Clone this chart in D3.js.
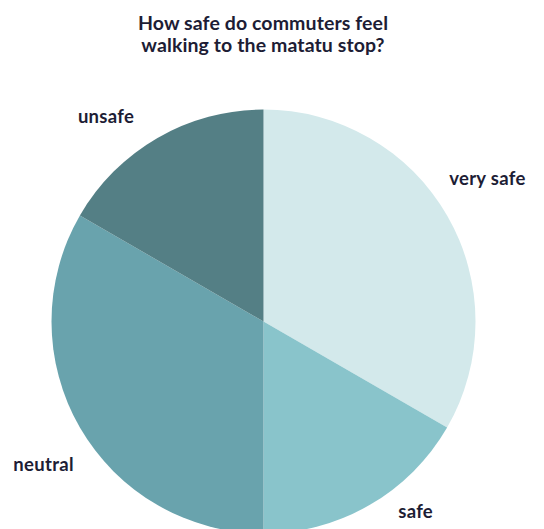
<!DOCTYPE html>
<html>
<head>
<meta charset="utf-8">
<script src="https://cdn.jsdelivr.net/npm/d3@7"></script>
<style>
  body { margin: 0; background: #fff; }
  svg text { font-family: 'Lato', sans-serif; font-weight: 700; fill: #1d1d35; }
</style>
</head>
<body>
<div id="chart"></div>
<script>
(function () {
  'use strict';

  var titleLines = ['How safe do commuters feel', 'walking to the matatu stop?'];
  var categories = ['very safe', 'safe', 'neutral', 'unsafe'];
  var values = [2, 1, 2, 1];
  var colors = ['#d3e9eb', '#89c4cb', '#69a3ad', '#547f85'];

  var width = 544, height = 529;
  var cx = 263.5, cy = 321.5, radius = 212;

  var svg = d3.select('#chart').append('svg')
      .attr('width', width)
      .attr('height', height);

  svg.selectAll('text.title')
    .data(titleLines)
    .enter()
    .append('text')
    .attr('class', 'title')
    .attr('x', 263)
    .attr('y', function (d, i) { return 30 + i * 22; })
    .attr('text-anchor', 'middle')
    .style('font-size', '19.5px')
    .style('letter-spacing', '0.1px')
    .text(function (d) { return d; });

  var data = categories.map(function (c, i) { return { name: c, value: values[i], color: colors[i] }; });

  var pie = d3.pie().sort(null).value(function (d) { return d.value; });
  var arc = d3.arc().innerRadius(0).outerRadius(radius);

  // labels sit outside, nudged back a few degrees
  var shift = -5 * Math.PI / 180;
  var labelArc = d3.arc().innerRadius(250).outerRadius(250)
    .startAngle(function (d) { return d.startAngle + shift; })
    .endAngle(function (d) { return d.endAngle + shift; });

  var g = svg.append('g')
      .attr('transform', 'translate(' + cx + ',' + cy + ')');

  var arcs = pie(data);

  g.selectAll('path')
    .data(arcs)
    .enter()
    .append('path')
    .attr('d', arc)
    .attr('fill', function (d) { return d.data.color; });

  var labels = g.selectAll('text.label')
    .data(arcs)
    .enter()
    .append('text')
    .attr('class', 'label')
    .attr('text-anchor', 'middle')
    .attr('dy', '0.35em')
    .style('font-size', '18.5px')
    .style('letter-spacing', '0.3px')
    .text(function (d) { return d.data.name; });

  // push labels outward by part of their width, keep them inside the frame
  labels.attr('transform', function (d) {
    var c = labelArc.centroid(d);
    var w = this.getComputedTextLength();
    var side = c[0] > 0 ? 1 : -1;
    var x = c[0] + side * w / 4;
    var y = Math.min(c[1], height - cy - 17);
    return 'translate(' + x + ',' + y + ')';
  });
})();
</script>
</body>
</html>
